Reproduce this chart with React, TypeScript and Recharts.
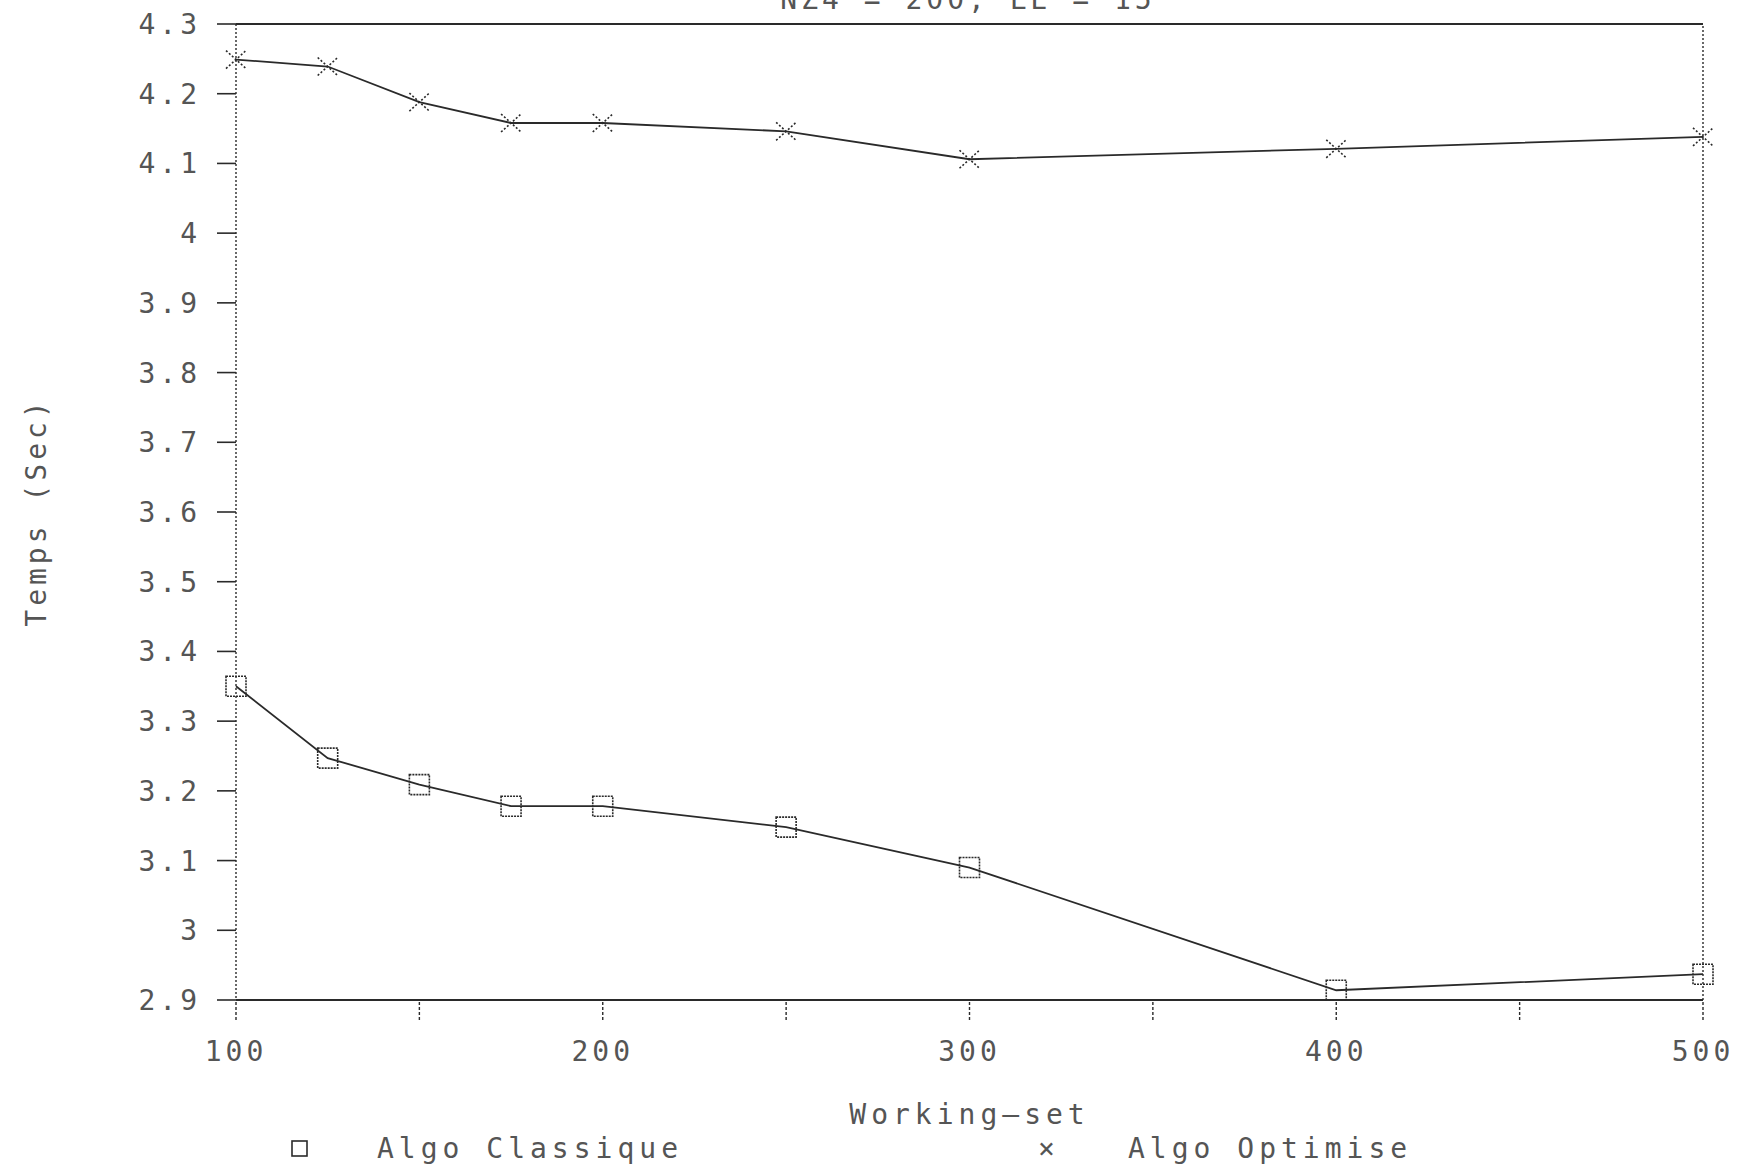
import { LineChart, Line, XAxis, YAxis, ReferenceLine, Legend } from 'recharts';

const workingSet = [100, 125, 150, 175, 200, 250, 300, 400, 500];
const algoClassique = [3.35, 3.247, 3.209, 3.178, 3.178, 3.148, 3.09, 2.914, 2.937];
const algoOptimise = [4.249, 4.239, 4.188, 4.158, 4.158, 4.146, 4.106, 4.121, 4.138];

const xTicks = [100, 150, 200, 250, 300, 350, 400, 450, 500];
const xLabelled = [100, 200, 300, 400, 500];
const yTicks = [2.9, 3, 3.1, 3.2, 3.3, 3.4, 3.5, 3.6, 3.7, 3.8, 3.9, 4, 4.1, 4.2, 4.3];

const TITLE = 'NZ4 = 200, LE = 15';
const X_LABEL = 'Working\u2014set';
const Y_LABEL = 'Temps (Sec)';

const data = workingSet.map((x, i) => ({
  x,
  classique: algoClassique[i],
  optimise: algoOptimise[i],
}));

const FONT = '"DejaVu Sans Mono", monospace';
const INK = '#2a2a2a';
const TEXT = '#555';
const LEGEND_H = 40;

const textStyle = { fontFamily: FONT, fontSize: 28, letterSpacing: 4, fill: TEXT };

const SquareDot = (props: any) => {
  const { cx, cy } = props;
  if (cx == null || cy == null) return null;
  return (
    <rect
      x={cx - 10}
      y={cy - 10}
      width={20}
      height={20}
      fill="none"
      stroke={INK}
      strokeWidth={1.6}
      strokeDasharray="2 1"
    />
  );
};

const CrossDot = (props: any) => {
  const { cx, cy } = props;
  if (cx == null || cy == null) return null;
  return (
    <g stroke={INK} strokeWidth={1.6} strokeDasharray="2 2">
      <line x1={cx - 10} y1={cy - 9} x2={cx + 10} y2={cy + 9} />
      <line x1={cx - 10} y1={cy + 9} x2={cx + 10} y2={cy - 9} />
    </g>
  );
};

const renderLegend = () => (
  <div style={{ position: 'relative', width: 1747, height: LEGEND_H, fontFamily: FONT, fontSize: 28, letterSpacing: 5, color: TEXT }}>
    <svg style={{ position: 'absolute', left: 290, top: 11 }} width={20} height={20}>
      <rect x={2} y={2} width={15} height={15} fill="none" stroke={INK} strokeWidth={1.6} />
    </svg>
    <span style={{ position: 'absolute', left: 377, top: 4 }}>Algo Classique</span>
    <span style={{ position: 'absolute', left: 1038, top: 4 }}>×</span>
    <span style={{ position: 'absolute', left: 1128, top: 4 }}>Algo Optimise</span>
  </div>
);

export default function App() {
  return (
    <div style={{ position: 'absolute', left: 0, top: 0, width: 1747, height: 1172, background: '#fff', overflow: 'hidden' }}>
      <LineChart width={1747} height={1172} data={data} margin={{ top: 24, right: 44, bottom: 0, left: 0 }}>
        <text x={968} y={9} textAnchor="middle" style={textStyle}>
          {TITLE}
        </text>
        <XAxis
          dataKey="x"
          type="number"
          domain={[100, 500]}
          ticks={xTicks}
          interval={0}
          height={172 - LEGEND_H}
          tickSize={20}
          tickMargin={21}
          axisLine={{ stroke: INK, strokeWidth: 2.2 }}
          tickLine={{ stroke: INK, strokeWidth: 1.4, strokeDasharray: '3 2' }}
          tick={textStyle}
          tickFormatter={(v: number) => (xLabelled.includes(v) ? String(v) : '')}
          label={{ value: X_LABEL, position: 'insideTop', offset: 104, style: { ...textStyle, letterSpacing: 5 } }}
        />
        <YAxis
          type="number"
          domain={[2.9, 4.3]}
          ticks={yTicks}
          interval={0}
          width={236}
          tickSize={19}
          tickMargin={16}
          axisLine={{ stroke: INK, strokeWidth: 1.4, strokeDasharray: '2 2' }}
          tickLine={{ stroke: INK, strokeWidth: 1.6 }}
          tick={textStyle}
          tickFormatter={(v: number) => String(Math.round(v * 10) / 10)}
          label={{ value: Y_LABEL, angle: -90, position: 'insideLeft', offset: 36, style: { ...textStyle, textAnchor: 'middle' } }}
        />
        <ReferenceLine y={4.3} stroke={INK} strokeWidth={2.2} />
        <ReferenceLine x={500} stroke={INK} strokeWidth={1.4} strokeDasharray="2 2" />
        <Line
          dataKey="classique"
          stroke={INK}
          strokeWidth={1.8}
          dot={<SquareDot />}
          activeDot={false}
          isAnimationActive={false}
        />
        <Line
          dataKey="optimise"
          stroke={INK}
          strokeWidth={1.8}
          dot={<CrossDot />}
          activeDot={false}
          isAnimationActive={false}
        />
        <Legend content={renderLegend} wrapperStyle={{ position: 'absolute', left: 0, top: 1128, width: 1747, height: LEGEND_H }} />
      </LineChart>
    </div>
  );
}
